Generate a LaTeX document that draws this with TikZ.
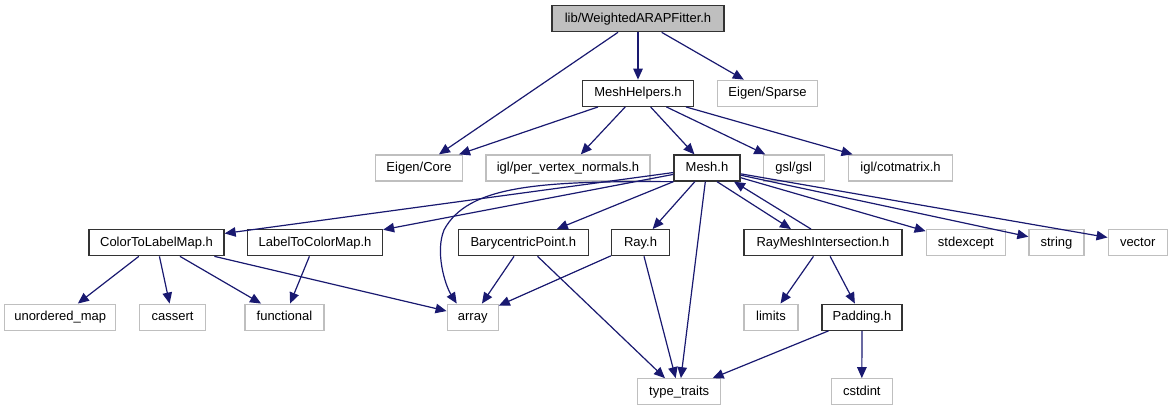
\documentclass[tikz,border=0pt]{standalone}
\usepackage{fontspec}
\setmainfont{Liberation Sans}
\usetikzlibrary{arrows.meta,calc}
\definecolor{edge}{HTML}{191970}
\definecolor{mainfill}{HTML}{BFBFBF}
\definecolor{extline}{HTML}{BFBFBF}
\definecolor{ink}{HTML}{000000}
\tikzset{
  >={Triangle[length=11pt,width=9.5pt]},
  every node/.style={font=\fontsize{13}{15}\selectfont,text=ink},
  box/.style={draw=ink!80,line width=1.3pt,fill=white,minimum height=26pt,inner xsep=0pt,text height=9.4pt,text depth=2.6pt},
  mainbox/.style={box,fill=mainfill},
  extbox/.style={box,draw=extline},
  arrow/.style={->,line width=1.2pt,draw=edge},
}
\begin{document}
\begin{tikzpicture}[x=1pt,y=-1pt]
\useasboundingbox (0,0) rectangle (1173,411);
% top two rows
\node[mainbox,minimum width=172pt] (fitter) at (638,18.7) {lib/WeightedARAPFitter.h};
\node[box,minimum width=111pt] (helpers) at (638,93.3) {MeshHelpers.h};
\node[extbox,minimum width=100pt] (sparse) at (767.5,93.3) {Eigen/Sparse};
\node[extbox,minimum width=87pt] (core) at (419,168) {Eigen/Core};
\node[extbox,minimum width=164pt] (normals) at (568,168) {igl/per\_vertex\_normals.h};
\node[box,minimum width=66pt] (mesh) at (707,168) {Mesh.h};
\node[extbox,minimum width=61pt] (gsl) at (793.7,168) {gsl/gsl};
\node[extbox,minimum width=104pt] (cotmatrix) at (900.5,168) {igl/cotmatrix.h};
% headers pulled in by Mesh.h
\node[box,minimum width=135pt] (ctl) at (156.5,242.7) {ColorToLabelMap.h};
\node[box,minimum width=135pt] (ltc) at (315,242.7) {LabelToColorMap.h};
\node[box,minimum width=130pt] (bary) at (523.3,242.7) {BarycentricPoint.h};
\node[box,minimum width=58pt] (ray) at (640.5,242.7) {Ray.h};
\node[box,minimum width=158pt] (rmi) at (823,242.7) {RayMeshIntersection.h};
\node[extbox,minimum width=79pt] (stdexcept) at (965.8,242.7) {stdexcept};
\node[extbox,minimum width=55pt] (string) at (1056.5,242.7) {string};
\node[extbox,minimum width=59pt] (vector) at (1137.7,242.7) {vector};
% lower rows
\node[extbox,minimum width=111pt] (umap) at (60.2,317.2) {unordered\_map};
\node[extbox,minimum width=66pt] (cassert) at (172.5,317.2) {cassert};
\node[extbox,minimum width=79pt] (functional) at (284.5,317.2) {functional};
\node[extbox,minimum width=51pt] (array) at (472.7,317.2) {array};
\node[extbox,minimum width=54pt] (limits) at (771,317.2) {limits};
\node[box,minimum width=80pt] (padding) at (862,317.2) {Padding.h};
\node[extbox,minimum width=83pt] (traits) at (679.2,391.8) {type\_traits};
\node[extbox,minimum width=61pt] (cstdint) at (861.8,391.8) {cstdint};

\draw[arrow] (fitter) -- (core);
\draw[arrow] (fitter) -- (helpers);
\draw[arrow] (fitter) -- (sparse);
\draw[arrow] (helpers) -- (core);
\draw[arrow] (helpers) -- (normals);
\draw[arrow] (helpers) -- (mesh);
\draw[arrow] (helpers) -- (gsl);
\draw[arrow] (helpers) -- (cotmatrix);
\draw[arrow] (mesh) -- (ctl);
\draw[arrow] (mesh) -- (ltc);
\draw[arrow] (mesh.south west) .. controls (540,181) and (468,185) .. (444,230)
  .. controls (435,252) and (445,285) .. ($(array.north)+(-16,0)$);
\draw[arrow] (mesh) -- (bary);
\draw[arrow] (mesh) -- (ray);
\draw[arrow] (mesh) -- (traits);
\draw[arrow] ($(mesh.south)+(10,0)$) -- ($(rmi.north)+(-32,0)$);
\draw[arrow] (mesh) -- (stdexcept);
\draw[arrow] (mesh) -- (string);
\draw[arrow] (mesh) -- (vector);
\draw[arrow] ($(rmi.north)+(-12,0)$) -- ($(mesh.south)+(27,0)$);
\draw[arrow] (ctl) -- (umap);
\draw[arrow] (ctl) -- (cassert);
\draw[arrow] (ctl) -- (functional);
\draw[arrow] (ctl) -- (array);
\draw[arrow] (ltc) -- (functional);
\draw[arrow] (bary) -- (array);
\draw[arrow] (bary) -- (traits);
\draw[arrow] (ray) -- (array);
\draw[arrow] (ray) -- (traits);
\draw[arrow] (rmi) -- (limits);
\draw[arrow] (rmi) -- (padding);
\draw[arrow] (padding) -- (traits);
\draw[arrow] (padding) -- (cstdint);
\end{tikzpicture}
\end{document}
